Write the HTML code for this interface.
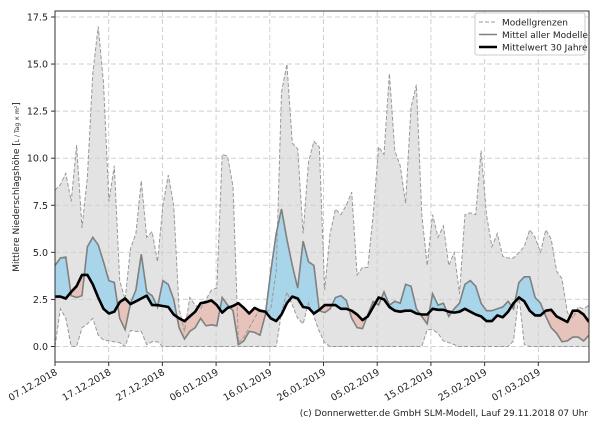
<!DOCTYPE html>
<html><head><meta charset="utf-8"><style>
body{margin:0;background:#fff;}
svg{font-family:"DejaVu Sans","Liberation Sans",sans-serif;}
</style></head><body>
<svg id="s" width="600" height="420" xmlns="http://www.w3.org/2000/svg"></svg>
<script>
const U=[8.3,8.6,9.2,7.7,10.7,6.3,9,14.5,17,14,7.7,9.6,3.5,2.5,5.2,6,8.8,5.8,6.1,4.5,7.5,9.1,7.5,2,0.8,2.6,2.2,2,2.5,3,3.1,10.2,10.1,8.5,0.2,0.5,1,1.5,2,1.8,2,4,13.5,15,10.8,10.5,6,9.8,10.9,10.6,3,6,7.3,7,7.5,8.2,3.8,4.2,4.2,7,10.6,10.2,14.5,10.4,9.6,7.6,12.7,13.9,7,4.3,7,5.8,6.4,4.3,5,2.8,7,7.1,7,10.4,7,5.3,6,4.8,4.7,4.7,5,5.3,6.2,5.8,5,6.2,5.7,4,3.6,1.8,1.5,2.1,2,2.2];
const L=[0,2,1.5,0,0,1,1.2,1.5,0.6,0.35,0.3,0.25,0.2,0,0.85,0.8,0.8,0.1,0.25,0.25,0,0,0,0,0,0,0,0,0,0,0,0,0,0,0,0,0,0,0,0,0,0,1.8,2.9,2.2,1.5,1.2,2.3,1.6,0.8,0.2,0,0,0,0,0,0,0,0,0,0,0,0,0,0,0,0,0,0,0.9,0.9,0.7,0.3,0.2,0.1,0,0,0,0,0,0,0,0,0,0,0.3,2.7,0.1,0,0,0,0,0,0,0,0,0,0,0,0];
const M=[4.3,4.7,4.75,2.7,2.6,2.7,5.3,5.8,5.4,4.5,3.5,3.4,1.5,0.9,2.3,3,4.9,2.9,2.7,2.1,3.5,3.3,2.5,1,0.4,0.8,1,1.5,1.1,1.15,1.1,2.6,2.2,1.9,0.1,0.3,0.8,0.75,0.6,1.7,4,6,7.3,5.7,4.3,3.1,5.6,4.5,4.3,1.9,1.8,2,2.6,2.7,2.45,1.5,1,0.95,1.7,2.4,2.2,2.9,2.2,2.4,2.3,3.3,3.2,2,1.6,1.2,2.8,2.2,2.3,1.6,2,2.3,3.3,3.5,3.2,2.3,1.9,1.9,2,2.1,2.4,2,3.4,3.7,3.7,2.6,2.3,1.6,1,0.7,0.25,0.3,0.5,0.5,0.3,0.6];
const C=[2.65,2.65,2.55,2.9,3.2,3.8,3.8,3.3,2.6,2,1.75,1.85,2.35,2.55,2.25,2.4,2.55,2.7,2.2,2.2,2.15,2.1,1.7,1.5,1.35,1.6,1.85,2.3,2.35,2.45,2.2,1.8,2.05,2.15,2.3,2.05,1.75,2.05,1.9,1.85,1.5,1.35,1.7,2.3,2.65,2.55,2.1,2.05,1.75,1.95,2.2,2.2,2.2,2,2,1.9,1.7,1.4,1.6,2.1,2.6,2.5,2.1,1.9,1.85,1.9,1.9,1.75,1.7,1.7,2,1.95,1.95,1.85,1.8,1.85,2,1.85,1.7,1.6,1.35,1.35,1.65,1.55,1.85,2.3,2.6,2.4,1.9,1.65,1.65,1.9,1.95,1.6,1.45,1.3,1.9,1.9,1.7,1.3];
const X0=55,X1=589,Y0=11,Y1=362;
const sx=d=>X0+d*(X1-X0)/(U.length-1), sy=v=>346.5-18.83*v;
const pts=a=>a.map((v,i)=>sx(i).toFixed(1)+','+sy(v).toFixed(1));
const rev=a=>pts(a).reverse();
let h='';
h+='<defs><clipPath id="ca"><polygon points="'+[X0+','+Y0,...pts(C),X1+','+Y0].join(' ')+'"/></clipPath>';
h+='<clipPath id="cb"><polygon points="'+[X0+','+Y1,...pts(C),X1+','+Y1].join(' ')+'"/></clipPath>';
h+='<clipPath id="pl"><rect x="'+X0+'" y="'+Y0+'" width="'+(X1-X0)+'" height="'+(Y1-Y0)+'"/></clipPath></defs>';
h+='<g clip-path="url(#pl)">';
h+='<polygon points="'+[...pts(U),...rev(L)].join(' ')+'" fill="#e3e3e3"/>';
for(let v=0;v<=17.5;v+=2.5){const y=sy(v);h+=`<line x1="${X0}" x2="${X1}" y1="${y}" y2="${y}" stroke="#cfcfcf" stroke-dasharray="5,3"/>`;}
for(let k=0;k<10;k++){const x=X0+k*10*5.37;h+=`<line x1="${x}" x2="${x}" y1="${Y0}" y2="${Y1}" stroke="#cfcfcf" stroke-dasharray="5,3"/>`;}
const band=[...pts(M),...rev(C)].join(' ');
h+='<polygon points="'+band+'" fill="#a8d5ea" clip-path="url(#ca)"/>';
h+='<polygon points="'+band+'" fill="#e6c3bb" clip-path="url(#cb)"/>';
h+='<polyline points="'+pts(U).join(' ')+'" fill="none" stroke="#999" stroke-width="1" stroke-dasharray="4,2"/>';
h+='<polyline points="'+pts(L).join(' ')+'" fill="none" stroke="#999" stroke-width="1" stroke-dasharray="4,2"/>';
h+='<polyline points="'+pts(M).join(' ')+'" fill="none" stroke="#808080" stroke-width="1.6"/>';
h+='<polyline points="'+pts(C).join(' ')+'" fill="none" stroke="#000" stroke-width="2.6" stroke-linejoin="round"/>';
h+='</g>';
h+=`<rect x="${X0}" y="${Y0}" width="${X1-X0}" height="${Y1-Y0}" fill="none" stroke="#333" stroke-width="1"/>`;
for(let v=0;v<=17.5;v+=2.5){const y=sy(v);h+=`<line x1="${X0-4}" x2="${X0}" y1="${y}" y2="${y}" stroke="#333"/><text x="${X0-7}" y="${y+3.5}" font-size="9.5" text-anchor="end" fill="#222">${v.toFixed(1)}</text>`;}
const labs=['07.12.2018','17.12.2018','27.12.2018','06.01.2019','16.01.2019','26.01.2019','05.02.2019','15.02.2019','25.02.2019','07.03.2019'];
labs.forEach((t,k)=>{const x=X0+k*10*5.37;h+=`<line x1="${x}" x2="${x}" y1="${Y1}" y2="${Y1+4}" stroke="#333"/><text transform="translate(${x+3},${Y1+12}) rotate(-30)" font-size="9.5" text-anchor="end" fill="#222">${t}</text>`;});
h+=`<text transform="translate(19,187) rotate(-90)" font-size="9" text-anchor="middle" fill="#222">Mittlere Niederschlagshöhe [<tspan font-size="6">L / Tag × m²</tspan>]</text>`;
h+='<rect x="475" y="13" width="110" height="42" fill="#fff" fill-opacity="0.9" stroke="#ccc" rx="2"/>';
h+='<line x1="479" x2="497" y1="22" y2="22" stroke="#999" stroke-dasharray="4,2"/><text x="502" y="25.5" font-size="9" fill="#222">Modellgrenzen</text>';
h+='<line x1="479" x2="497" y1="34.5" y2="34.5" stroke="#808080" stroke-width="1.6"/><text x="502" y="38" font-size="9" fill="#222">Mittel aller Modelle</text>';
h+='<line x1="479" x2="497" y1="47" y2="47" stroke="#000" stroke-width="2.6"/><text x="502" y="50.5" font-size="9" fill="#222">Mittelwert 30 Jahre</text>';
h+='<text x="588" y="416" font-size="9" text-anchor="end" fill="#222">(c) Donnerwetter.de GmbH SLM-Modell, Lauf 29.11.2018 07 Uhr</text>';
document.getElementById('s').innerHTML=h;
</script>
</body></html>
